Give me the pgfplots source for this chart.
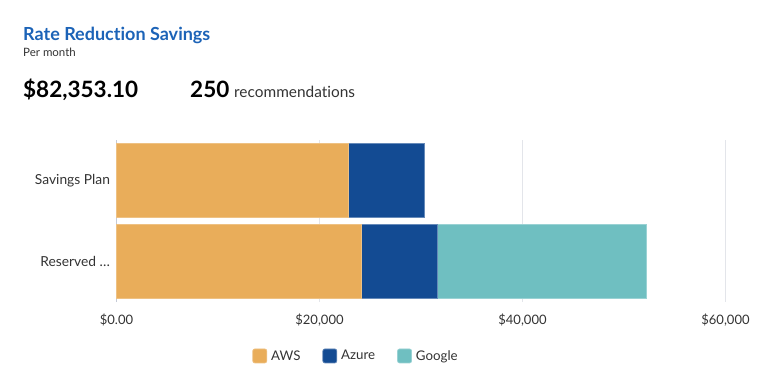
\documentclass[border=0pt]{standalone}
\usepackage{pgfplots}
\pgfplotsset{compat=1.18}
\usepackage{fontspec}
\setmainfont{Lato}[RawFeature=-liga]
\definecolor{aws}{HTML}{E9AD5A}
\definecolor{azure}{HTML}{134B93}
\definecolor{google}{HTML}{6FBFC1}
\definecolor{titleblue}{HTML}{1C63B7}
\definecolor{txt}{HTML}{333333}
\definecolor{gridc}{HTML}{E3E5EA}
\definecolor{axc}{HTML}{C5CAD6}
\begin{document}
\begin{tikzpicture}[x=1bp,y=1bp]
\begin{axis}[
  width=609bp, height=162bp, scale only axis,
  xbar stacked, bar width=74bp,
  xmin=0, xmax=60000, ymin=-0.5, ymax=1.5,
  axis x line*=bottom, axis y line*=left,
  x axis line style={draw=none},
  y axis line style={draw=axc, line width=1bp},
  xmajorgrids, grid style={draw=gridc, line width=0.8bp},
  clip=false,
  scaled x ticks=false,
  ytick={0,1}, yticklabels={Reserved …, Savings Plan},
  xtick={0,20000,40000,60000},
  xticklabels={{\$0.00},{\$20,000},{\$40,000},{\$60,000}},
  tick style={draw=none},
  xticklabel style={font=\fontsize{13bp}{14bp}\selectfont, text=txt, yshift=-8bp},
  yticklabel style={font=\fontsize{13.8bp}{15bp}\selectfont, text=txt, xshift=-3bp},
  legend style={at={(0.395,-0.333)}, anchor=center, draw=none, legend columns=3,
    font=\fontsize{13.3bp}{14bp}\selectfont, text=txt,
    nodes={inner xsep=4bp},
    /tikz/every even column/.append style={column sep=18bp}},
  legend image code/.code={\fill[#1, rounded corners=2bp] (0bp,-7bp) rectangle (14bp,7bp);},
]
\coordinate (O) at (rel axis cs:0,0);
\addplot[fill=aws, draw=aws!75!white, line width=0.7bp] coordinates {(24140,0) (22810,1)};
\addplot[fill=azure, draw=azure!65!white, line width=0.7bp] coordinates {(7490,0) (7530,1)};
\addplot[fill=google, draw=google!70!white, line width=0.7bp] coordinates {(20540,0) (0,1)};
\legend{AWS, Azure, Google}
\end{axis}
\pgfresetboundingbox
\begin{scope}[shift={(O)}, xshift=-116.5bp, yshift=-89bp]
\path[use as bounding box] (0,0) rectangle (767,391);
\node[anchor=base west, inner sep=0, text=titleblue, font=\fontsize{18bp}{20bp}\selectfont\bfseries] at (23,391-40) {Rate Reduction Savings};
\node[anchor=base west, inner sep=0, text=txt, font=\fontsize{11.5bp}{12bp}\selectfont] at (23,391-56) {Per month};
\node[anchor=base west, inner sep=0, text=black, font=\fontsize{22.5bp}{24bp}\selectfont\bfseries] at (23,391-97) {\$82,353.10};
\node[anchor=base west, inner sep=0, text=black, font=\fontsize{22.5bp}{24bp}\selectfont\bfseries] at (190,391-97) {250};
\node[anchor=base west, inner sep=0, text=txt, font=\fontsize{15.4bp}{16bp}\selectfont] at (234,391-97) {recommendations};
\end{scope}
\end{tikzpicture}
\end{document}
